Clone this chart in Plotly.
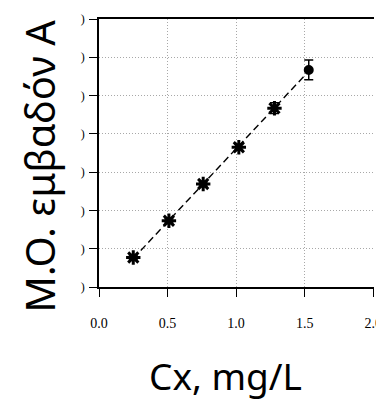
import numpy as np
import plotly.graph_objects as go

# Calibration data: concentration vs. mean peak area
conc = [0.25, 0.51, 0.76, 1.02, 1.28, 1.53]
area = [0.77, 1.73, 2.69, 3.65, 4.67, 5.67]
area_err = [0.05, 0.05, 0.05, 0.08, 0.14, 0.26]
symbols = ["asterisk-open"] * 5 + ["circle"]
sizes = [12, 12, 12, 12, 12, 7]

x_ticks = [0.0, 0.5, 1.0, 1.5, 2.0]
x_tick_text = ["0.0", "0.5", "1.0", "1.5", "2.0"]
y_ticks = [0, 1, 2, 3, 4, 5, 6, 7]
y_tick_text = [")"] * len(y_ticks)

# least-squares calibration line
slope, intercept = np.polyfit(conc, area, 1)
fit_x = np.array([min(conc), max(conc)])
fit_y = slope * fit_x + intercept

fig = go.Figure()
fig.add_trace(go.Scatter(
    x=fit_x, y=fit_y, mode="lines",
    line=dict(color="black", width=1.4, dash="7px,4px"),
    hoverinfo="skip", showlegend=False,
))
# solid core under each asterisk
fig.add_trace(go.Scatter(
    x=conc, y=area, mode="markers",
    marker=dict(symbol="circle", size=6, color="black", opacity=1),
    hoverinfo="skip", showlegend=False,
))
fig.add_trace(go.Scatter(
    x=conc, y=area, mode="markers",
    marker=dict(symbol=symbols, size=sizes, color="black", opacity=1,
                line=dict(color="black", width=3)),
    error_y=dict(type="data", array=area_err, visible=True,
                 color="black", thickness=1.5, width=4.5),
    showlegend=False,
))

axis_common = dict(
    showline=True, linecolor="black", linewidth=1.5,
    ticks="outside", ticklen=8, tickwidth=1.2, tickcolor="black",
    showgrid=True, gridcolor="#a8a8a8", gridwidth=1, griddash="1px,2px",
    zeroline=False, automargin=False,
)

fig.update_layout(
    width=376, height=407,
    margin=dict(l=99, r=2, t=19, b=120, autoexpand=False),
    paper_bgcolor="white", plot_bgcolor="white",
    xaxis=dict(range=[0, 2.006], tickvals=x_ticks, ticktext=x_tick_text,
               mirror=True, ticklabelstandoff=14, ticklabeloverflow="allow",
               tickfont=dict(family="Liberation Serif", size=14, color="black"),
               **axis_common),
    yaxis=dict(range=[0, 7], tickvals=y_ticks, ticktext=y_tick_text,
               ticklabelstandoff=2,
               tickfont=dict(family="Liberation Serif", size=12, color="black"),
               **axis_common),
    annotations=[
        dict(text="Cx, mg/L", xref="paper", yref="paper", x=0.5, y=0,
             xshift=-11, yshift=-88, xanchor="center", yanchor="middle",
             showarrow=False,
             font=dict(family="Noto Sans", size=37, color="black")),
        dict(text="Μ.Ο. εμβαδόν A", xref="paper", yref="paper", x=0, y=0.45,
             xshift=-60, xanchor="center", yanchor="middle", textangle=-90,
             showarrow=False,
             font=dict(family="Noto Sans", size=40, color="black")),
    ],
)

fig.write_html("out.html")
